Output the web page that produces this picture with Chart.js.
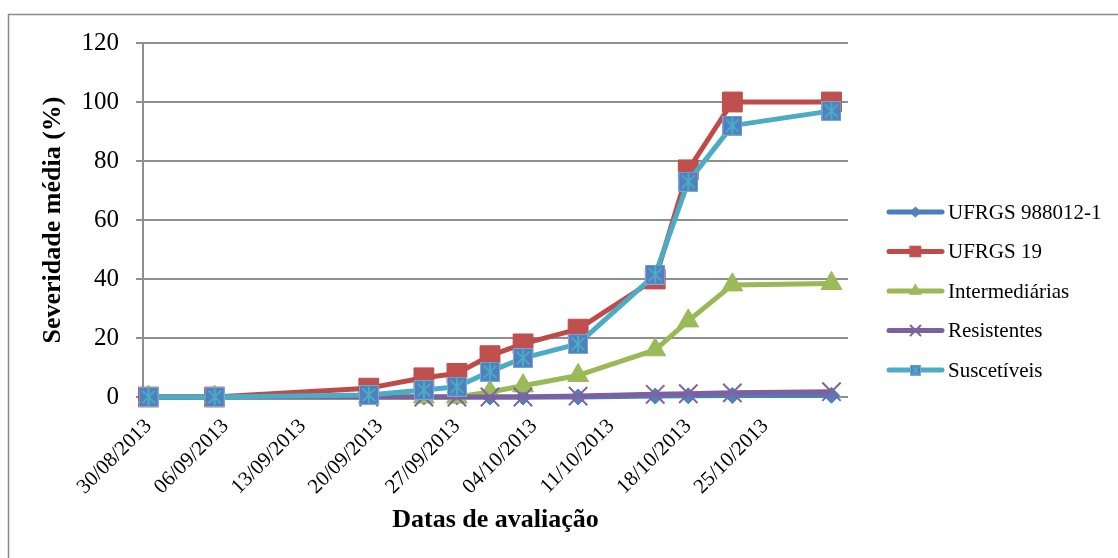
<!DOCTYPE html>
<html>
<head>
<meta charset="utf-8">
<script src="https://cdn.jsdelivr.net/npm/chart.js@4.4.1/dist/chart.umd.min.js"></script>
<style>
  html, body { margin: 0; padding: 0; background: #ffffff; }
  #wrap { width: 1118px; height: 558px; position: relative; }
</style>
</head>
<body>
<div id="wrap"><canvas id="grafico" width="1118" height="558"></canvas></div>
<script>
// Datas das avaliações e severidade média (%) de cada grupo
const datasAvaliacao = ['30/08/2013', '05/09/2013', '19/09/2013', '24/09/2013', '27/09/2013', '30/09/2013',
                        '03/10/2013', '08/10/2013', '15/10/2013', '18/10/2013', '22/10/2013', '31/10/2013'];
const ufrgs988012 = [0, 0, 0, 0, 0, 0, 0, 0, 0.3, 0.4, 0.5, 0.6];
const ufrgs19 = [0, 0, 3, 6.5, 8, 14, 18, 23, 40, 77, 100, 100];
const intermediarias = [0, 0, 0, 0, 0, 1.7, 3.8, 7.3, 16, 25.8, 38, 38.5];
const resistentes = [0, 0, 0, 0, 0, 0, 0, 0.3, 0.9, 1.1, 1.4, 1.8];
const suscetiveis = [0, 0, 0.7, 2.4, 3.5, 8.6, 13.2, 18, 41.5, 73, 92, 97];

// Rótulos do eixo das datas (semanais)
const rotulosX = ['30/08/2013', '06/09/2013', '13/09/2013', '20/09/2013', '27/09/2013',
                  '04/10/2013', '11/10/2013', '18/10/2013', '25/10/2013'];
const ticksY = [0, 20, 40, 60, 80, 100, 120];

const nomesSeries = ['UFRGS 988012-1', 'UFRGS 19', 'Intermediárias', 'Resistentes', 'Suscetíveis'];

// Conversão dd/mm/aaaa -> dias desde a primeira data
function paraDia(txt) {
  const [d, m, a] = txt.split('/').map(Number);
  return Date.UTC(a, m - 1, d) / 86400000;
}
const dia0 = paraDia(rotulosX[0]);
const diaRel = txt => paraDia(txt) - dia0;
function paraTexto(dia) {
  const dt = new Date((dia + dia0) * 86400000);
  const p = n => String(n).padStart(2, '0');
  return p(dt.getUTCDate()) + '/' + p(dt.getUTCMonth() + 1) + '/' + dt.getUTCFullYear();
}
const xsDias = datasAvaliacao.map(diaRel);
const pontos = valores => valores.map((v, i) => ({ x: xsDias[i], y: v }));

// Marcador quadrado azul com asterisco ciano
function marcadorSuscetiveis(tam) {
  const c = document.createElement('canvas');
  c.width = tam; c.height = tam;
  const g = c.getContext('2d');
  g.fillStyle = '#4F81BD';
  g.fillRect(0, 0, tam, tam);
  g.strokeStyle = '#7BA7D6';
  g.lineWidth = 1;
  g.strokeRect(0.5, 0.5, tam - 1, tam - 1);
  g.strokeStyle = '#4BACC6';
  g.lineWidth = Math.max(1.5, tam / 10);
  const m = tam * 0.18;
  g.beginPath();
  g.moveTo(m, m); g.lineTo(tam - m, tam - m);
  g.moveTo(tam - m, m); g.lineTo(m, tam - m);
  g.moveTo(tam / 2, 1.5); g.lineTo(tam / 2, tam - 1.5);
  g.stroke();
  return c;
}
const imgSuscGrande = marcadorSuscetiveis(20);
const imgSuscPequena = marcadorSuscetiveis(11);

const fonteSerif = "'Liberation Serif', 'Times New Roman', serif";

const conjuntos = [
  { label: nomesSeries[0], data: pontos(ufrgs988012), borderColor: '#4A7EBB', pointBackgroundColor: '#4F81BD',
    pointBorderColor: '#4A7EBB', pointStyle: 'rectRot', pointRadius: 8, legendaRaio: 5, order: 4 },
  { label: nomesSeries[1], data: pontos(ufrgs19), borderColor: '#BE4B48', pointBackgroundColor: '#C0504D',
    pointBorderColor: '#BE4B48', pointStyle: 'rect', pointRadius: 14, legendaRaio: 7.5, order: 3 },
  { label: nomesSeries[2], data: pontos(intermediarias), borderColor: '#98B954', pointBackgroundColor: '#9BBB59',
    pointBorderColor: '#98B954', pointStyle: 'triangle', pointRadius: 12, legendaRaio: 6.5, order: 2 },
  { label: nomesSeries[3], data: pontos(resistentes), borderColor: '#7D60A0', pointBackgroundColor: '#8064A2',
    pointBorderColor: '#8064A2', pointStyle: 'crossRot', pointRadius: 13, pointBorderWidth: 2, legendaRaio: 7, order: 1 },
  { label: nomesSeries[4], data: pontos(suscetiveis), borderColor: '#4BACC6', pointBackgroundColor: '#4F81BD',
    pointBorderColor: '#4BACC6', pointStyle: imgSuscGrande, legendaEstilo: imgSuscPequena, pointRadius: 10, legendaRaio: 6, order: 0 }
].map(d => Object.assign({ borderWidth: 5, pointBorderWidth: 1, tension: 0, borderJoinStyle: 'round',
                            borderCapStyle: 'round', clip: false, pointHoverRadius: d.pointRadius }, d));

// Moldura externa e fundo
const moldura = {
  id: 'moldura',
  beforeDraw(chart) {
    const ctx = chart.ctx;
    ctx.save();
    ctx.fillStyle = '#ffffff';
    ctx.fillRect(0, 0, chart.width, chart.height);
    ctx.strokeStyle = '#8a8a8a';
    ctx.lineWidth = 1.5;
    ctx.strokeRect(8.5, 14.5, chart.width + 20, chart.height + 20);
    ctx.restore();
  }
};

// Legenda lateral: linha com marcador e nome da série
const legendaLateral = {
  id: 'legendaLateral',
  afterDraw(chart) {
    const ctx = chart.ctx;
    const x0 = 889, x1 = 942, yIni = 212, passo = 39.5;
    chart.data.datasets.forEach((ds, i) => {
      const y = yIni + i * passo;
      ctx.save();
      ctx.strokeStyle = ds.borderColor;
      ctx.lineWidth = 5;
      ctx.lineCap = 'round';
      ctx.beginPath();
      ctx.moveTo(x0, y);
      ctx.lineTo(x1, y);
      ctx.stroke();
      ctx.fillStyle = ds.pointBackgroundColor;
      ctx.strokeStyle = ds.pointBorderColor;
      ctx.lineWidth = ds.pointBorderWidth;
      Chart.helpers.drawPoint(ctx, {
        pointStyle: ds.legendaEstilo || ds.pointStyle, radius: ds.legendaRaio, rotation: 0,
        borderWidth: ds.pointBorderWidth
      }, (x0 + x1) / 2, y);
      ctx.fillStyle = '#000000';
      ctx.font = "21px " + fonteSerif;
      ctx.textBaseline = 'middle';
      ctx.textAlign = 'left';
      ctx.fillText(ds.label, 948, y + 1);
      ctx.restore();
    });
  }
};

new Chart(document.getElementById('grafico'), {
  type: 'line',
  data: { datasets: conjuntos },
  plugins: [moldura, legendaLateral],
  options: {
    responsive: false,
    animation: false,
    events: [],
    layout: { padding: { left: 10, right: 270, top: 43, bottom: 0 } },
    plugins: { legend: { display: false }, tooltip: { enabled: false } },
    scales: {
      x: {
        type: 'linear',
        min: -0.5,
        max: 63.5,
        afterBuildTicks(scale) { scale.ticks = rotulosX.map(t => ({ value: diaRel(t) })); },
        afterFit(scale) { scale.height = 161; },
        grid: { display: false },
        border: { display: false },
        ticks: {
          autoSkip: false,
          minRotation: 45,
          maxRotation: 45,
          padding: 9,
          color: '#000000',
          font: { family: fonteSerif, size: 21 },
          callback: v => paraTexto(v)
        },
        title: {
          display: true,
          text: 'Datas de avaliação',
          color: '#000000',
          font: { family: fonteSerif, size: 26, weight: 'bold' },
          padding: { top: 0, bottom: 22 }
        }
      },
      y: {
        min: 0,
        max: 120,
        afterBuildTicks(scale) { scale.ticks = ticksY.map(v => ({ value: v })); },
        afterFit(scale) { scale.width = 133; },
        grid: { color: '#8f8f8f', lineWidth: 2, tickLength: 7, drawTicks: true },
        border: { display: true, color: '#8f8f8f', width: 2 },
        ticks: {
          padding: 17,
          color: '#000000',
          font: { family: fonteSerif, size: 25 }
        },
        title: {
          display: true,
          text: 'Severidade média (%)',
          color: '#000000',
          font: { family: fonteSerif, size: 26, weight: 'bold' },
          padding: { top: 28, bottom: 0 }
        }
      }
    }
  }
});
</script>
</body>
</html>
